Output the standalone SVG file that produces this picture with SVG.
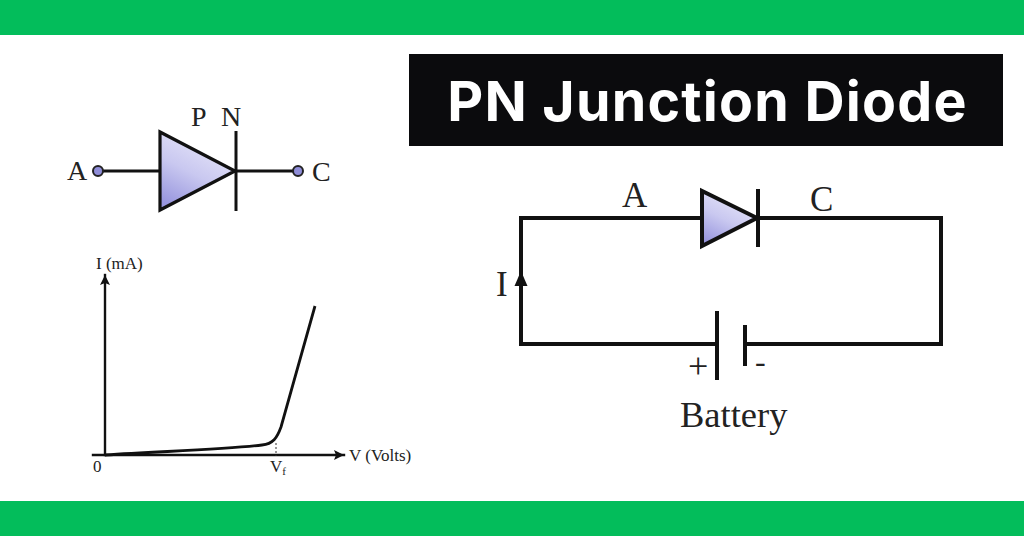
<svg xmlns="http://www.w3.org/2000/svg" width="1024" height="536" viewBox="0 0 1024 536">
<style>
.t{font-family:"Liberation Serif","Times New Roman",serif;fill:#222}
.w{fill:none;stroke:#111;stroke-linecap:square}
.d{stroke:#111;stroke-linejoin:miter}
</style>
<defs>
<linearGradient id="g" x1="0.75" y1="0" x2="0.25" y2="1"><stop offset="0" stop-color="#ecebfa"/><stop offset="0.55" stop-color="#c9c8f0"/><stop offset="1" stop-color="#9896de"/></linearGradient>
<marker id="ah" markerWidth="12" markerHeight="12" refX="10" refY="5" orient="auto" markerUnits="userSpaceOnUse"><path d="M0 0L10 5L0 10L2 5Z" fill="#111"/></marker>
</defs>
<rect width="1024" height="536" fill="#fff"/>
<g id="bands"><rect width="1024" height="35" fill="#03bd5b"/><rect y="501" width="1024" height="35" fill="#03bd5b"/></g>
<g id="title"><rect x="409" y="54" width="594" height="92" fill="#0b0b0d"/><text x="707.5" y="121" text-anchor="middle" font-family="Inter,'Noto Sans',sans-serif" font-weight="700" font-size="55.500" letter-spacing="1.2" fill="#fff">PN Junction Diode</text></g>
<g id="connectors">
<path class="w" stroke-width="3" d="M98 171H160M236 171H298"/>
<path class="w" stroke-width="4" d="M702 218H521V344H717M745 344H941V218H758"/>
<path class="w" stroke-width="2.4" d="M105 455V275" marker-end="url(#ah)"/>
<path class="w" stroke-width="2.4" d="M93 455H344" marker-end="url(#ah)"/>
<path fill="none" stroke="#111" stroke-width="2.8" d="M105 455C170 451 230 449 262 445C273 444 277 438 281 427L315 306"/>
<path fill="none" stroke="#333" stroke-width="1" stroke-dasharray="2 2" d="M276 443V456"/>
<path fill="#111" d="M521 271L527.500 286H514.500Z"/>
</g>
<g id="diode-symbol">
<path class="d" fill="url(#g)" stroke-width="3.200" d="M160 132V210L235 171Z"/>
<path class="d" stroke-width="3" d="M236 131V211"/>
<circle cx="98" cy="171" r="5" fill="#8f8dd8" stroke="#222" stroke-width="2"/>
<circle cx="298" cy="171" r="5" fill="#8f8dd8" stroke="#222" stroke-width="2"/>
<text class="t" x="67" y="180" font-size="28">A</text>
<text class="t" x="312" y="181" font-size="28">C</text>
<text class="t" x="191" y="126" font-size="28">P</text>
<text class="t" x="221" y="126" font-size="28">N</text>
</g>
<g id="iv-graph">
<text class="t" x="96" y="269" font-size="17">I (mA)</text>
<text class="t" x="93" y="472" font-size="17">0</text>
<text class="t" x="270" y="472" font-size="17">V<tspan font-size="11" dy="3">f</tspan></text>
<text class="t" x="349" y="461" font-size="17">V (Volts)</text>
</g>
<g id="circuit-diode">
<path class="d" fill="url(#g)" stroke-width="4" d="M702 191V246L757 218Z"/>
<path class="d" stroke-width="4" d="M758 189V247"/>
<text class="t" x="622" y="207" font-size="35">A</text>
<text class="t" x="810" y="211" font-size="35">C</text>
<text class="t" x="496" y="296" font-size="35">I</text>
</g>
<g id="battery">
<path class="d" stroke-width="4" d="M717 311V380M745 325V366"/>
<text class="t" x="688" y="378" font-size="36" fill="#333" font-weight="400">+</text>
<text class="t" x="755" y="372" font-size="32">-</text>
<text class="t" x="680" y="427" font-size="36.500">Battery</text>
</g>
</svg>
